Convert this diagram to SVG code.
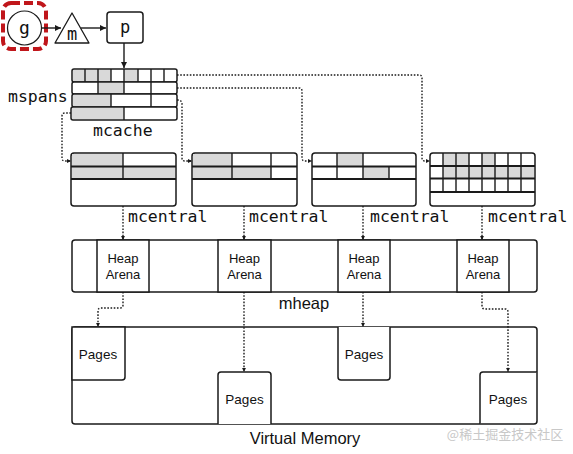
<svg xmlns="http://www.w3.org/2000/svg" width="573" height="454" viewBox="0 0 573 454">
<style>
.b{fill:#fff;stroke:#1a1a1a;stroke-width:1.5}
.s{fill:#d9d9d9}
.ln{stroke:#1a1a1a;stroke-width:1.4;fill:none}
.thk{stroke:#1a1a1a;stroke-width:2;fill:none}
.dot{stroke:#1a1a1a;stroke-width:1.4;fill:none;stroke-dasharray:1.6 1.6;marker-end:url(#ah)}
.mono{font-family:"DejaVu Sans Mono","Liberation Mono",monospace;fill:#111}
.sans{font-family:"Liberation Sans",Arial,sans-serif;fill:#111}
</style>
<defs>
<marker id="ah" markerUnits="userSpaceOnUse" markerWidth="6" markerHeight="6" refX="4" refY="3" orient="auto"><path d="M0,0.8 L4.5,3 L0,5.2 Z" fill="#1a1a1a"/></marker>
<marker id="sa" markerUnits="userSpaceOnUse" markerWidth="8" markerHeight="8" refX="6" refY="4" orient="auto"><path d="M0,1 L6,4 L0,7 Z" fill="#1a1a1a"/></marker>
</defs>
<rect width="573" height="454" fill="#fff"/>

<g id="g">
<rect x="3" y="3" width="43" height="46" rx="8" fill="none" stroke="#c0161b" stroke-width="4" stroke-dasharray="9 4"/>
<circle cx="24.5" cy="28" r="17" fill="#fff" stroke="#1a1a1a" stroke-width="1.2"/>
<text x="24.5" y="34" class="mono" font-size="18" text-anchor="middle">g</text>
</g>
<g id="m">
<path d="M72,13 L89,43 L55,43 Z" fill="#fff" stroke="#1a1a1a" stroke-width="1.3" stroke-linejoin="round"/>
<text x="72" y="40" class="mono" font-size="17" text-anchor="middle">m</text>
</g>
<g id="p">
<rect x="107" y="12" width="36" height="31" rx="3" class="b"/>
<text x="125" y="33" class="mono" font-size="17" text-anchor="middle">p</text>
</g>

<g id="mcache">
<rect x="72" y="69" width="105" height="13" rx="2" class="b"/>
<rect x="73" y="70" width="38" height="11" class="s"/>
<rect x="124" y="70" width="14" height="11" class="s"/>
<path d="M85,69V82M98,69V82M111,69V82M124,69V82M138,69V82M151,69V82M164,69V82" class="ln"/>
<rect x="72" y="82" width="105" height="12" rx="2" class="b"/>
<rect x="98" y="83" width="26" height="10" class="s"/>
<path d="M98,82V94M124,82V94M151,82V94" class="ln"/>
<rect x="72" y="94" width="105" height="13" rx="2" class="b"/>
<rect x="73" y="95" width="38" height="11" class="s"/>
<path d="M111,94V107M151,94V107" class="ln"/>
<rect x="71" y="107" width="106" height="13" rx="2" class="b"/>
<rect x="72" y="108" width="52" height="11" class="s"/>
<path d="M124,107V120" class="ln"/>
<text x="8" y="102" class="mono" font-size="16.5">mspans</text>
<text x="93" y="136" class="mono" font-size="16.5">mcache</text>
</g>

<g id="mcentral1">
<rect x="71" y="153" width="105" height="53" rx="3" class="b"/>
<rect x="72" y="154" width="51" height="25" class="s"/>
<rect x="123" y="167" width="52" height="12" class="s"/>
<path d="M71,166.5H176M71,179H176" class="thk"/>
<path d="M123,153V179" class="ln"/>
<text x="128" y="222" class="mono" font-size="16.5">mcentral</text>
</g>
<g id="mcentral2">
<rect x="192" y="153" width="105" height="53" rx="3" class="b"/>
<rect x="193" y="154" width="39" height="25" class="s"/>
<rect x="232" y="167" width="39" height="12" class="s"/>
<path d="M192,166.5H297M192,179H297" class="thk"/>
<path d="M232,153V179M271,153V179" class="ln"/>
<text x="249" y="222" class="mono" font-size="16.5">mcentral</text>
</g>
<g id="mcentral3">
<rect x="312" y="153" width="104" height="53" rx="3" class="b"/>
<rect x="337" y="154" width="26" height="12" class="s"/>
<rect x="363" y="167" width="26" height="12" class="s"/>
<path d="M312,166.5H416M312,179H416" class="thk"/>
<path d="M337,153V179M363,153V179M389,166V179" class="ln"/>
<text x="370" y="222" class="mono" font-size="16.5">mcentral</text>
</g>
<g id="mcentral4">
<rect x="430" y="153" width="105" height="53" rx="3" class="b"/>
<rect x="443" y="154" width="26" height="12" class="s"/>
<rect x="482" y="154" width="13" height="12" class="s"/>
<rect x="443" y="166" width="91" height="12" class="s"/>
<path d="M430,166H535M430,178.5H535M430,192H535" class="thk"/>
<path d="M443,153V192M456,153V192M469,153V192M482,153V192M495,153V192M508,153V192M521,153V192" class="ln"/>
<text x="488" y="222" class="mono" font-size="16.5">mcentral</text>
</g>

<g id="mheap">
<rect x="72" y="240" width="465" height="52" rx="3" class="b"/>
<rect x="97" y="240" width="52" height="52" class="b"/>
<rect x="218" y="240" width="53" height="52" class="b"/>
<rect x="338" y="240" width="52" height="52" class="b"/>
<rect x="457" y="240" width="52" height="52" class="b"/>
<g class="sans" font-size="13" text-anchor="middle">
<text x="123" y="263">Heap</text><text x="123" y="279">Arena</text>
<text x="244.5" y="263">Heap</text><text x="244.5" y="279">Arena</text>
<text x="364" y="263">Heap</text><text x="364" y="279">Arena</text>
<text x="483" y="263">Heap</text><text x="483" y="279">Arena</text>
</g>
<text x="304" y="309" class="sans" font-size="16.5" text-anchor="middle">mheap</text>
</g>

<g id="virtual-memory">
<rect x="72" y="327" width="465" height="97" rx="3" class="b"/>
<path d="M72,327H125V377Q125,380 122,380H72Z" class="b"/>
<path d="M218,424V375Q218,372 221,372H268Q271,372 271,375V424" class="b"/>
<path d="M338,327V377Q338,380 341,380H387Q390,380 390,377V327" class="b"/>
<path d="M537,372H483Q480,372 480,375V424" class="b"/>
<g class="sans" font-size="13.5" text-anchor="middle">
<text x="98" y="358.5">Pages</text>
<text x="244.5" y="403.5">Pages</text>
<text x="364" y="358.5">Pages</text>
<text x="508" y="403.5">Pages</text>
</g>
<text x="305" y="444" class="sans" font-size="16.5" text-anchor="middle">Virtual Memory</text>
</g>

<g id="connectors">
<path d="M42,28H61" class="ln" marker-end="url(#sa)"/>
<path d="M81,28H106" class="ln" marker-end="url(#sa)"/>
<path d="M124,43V68" class="ln" marker-end="url(#sa)"/>
<path d="M177,75H419Q422,75 422,78V158Q422,161 425,161H429.5" class="dot"/>
<path d="M177,88H299Q302,88 302,91V158Q302,161 305,161H311.5" class="dot"/>
<path d="M177,100Q182,100 182,104V158Q182,161 185,161H191.5" class="dot"/>
<path d="M71,113H65Q62,113 62,116V158Q62,161 65,161H70.5" class="dot"/>
<path d="M123,206V239.5" class="dot"/>
<path d="M244,206V239.5" class="dot"/>
<path d="M363,206V239.5" class="dot"/>
<path d="M482,206V239.5" class="dot"/>
<path d="M123,292V305Q123,308 120,308H101Q98,308 98,311V326.5" class="dot"/>
<path d="M244,292V371.5" class="dot"/>
<path d="M363,292V326.5" class="dot"/>
<path d="M482,292V306Q482,309 485,309H505Q508,309 508,312V371.5" class="dot"/>
</g>
<text x="505" y="439" font-family="'Noto Sans CJK SC',sans-serif" font-size="13" fill="#c8c8c8" text-anchor="middle">@稀土掘金技术社区</text>
</svg>
